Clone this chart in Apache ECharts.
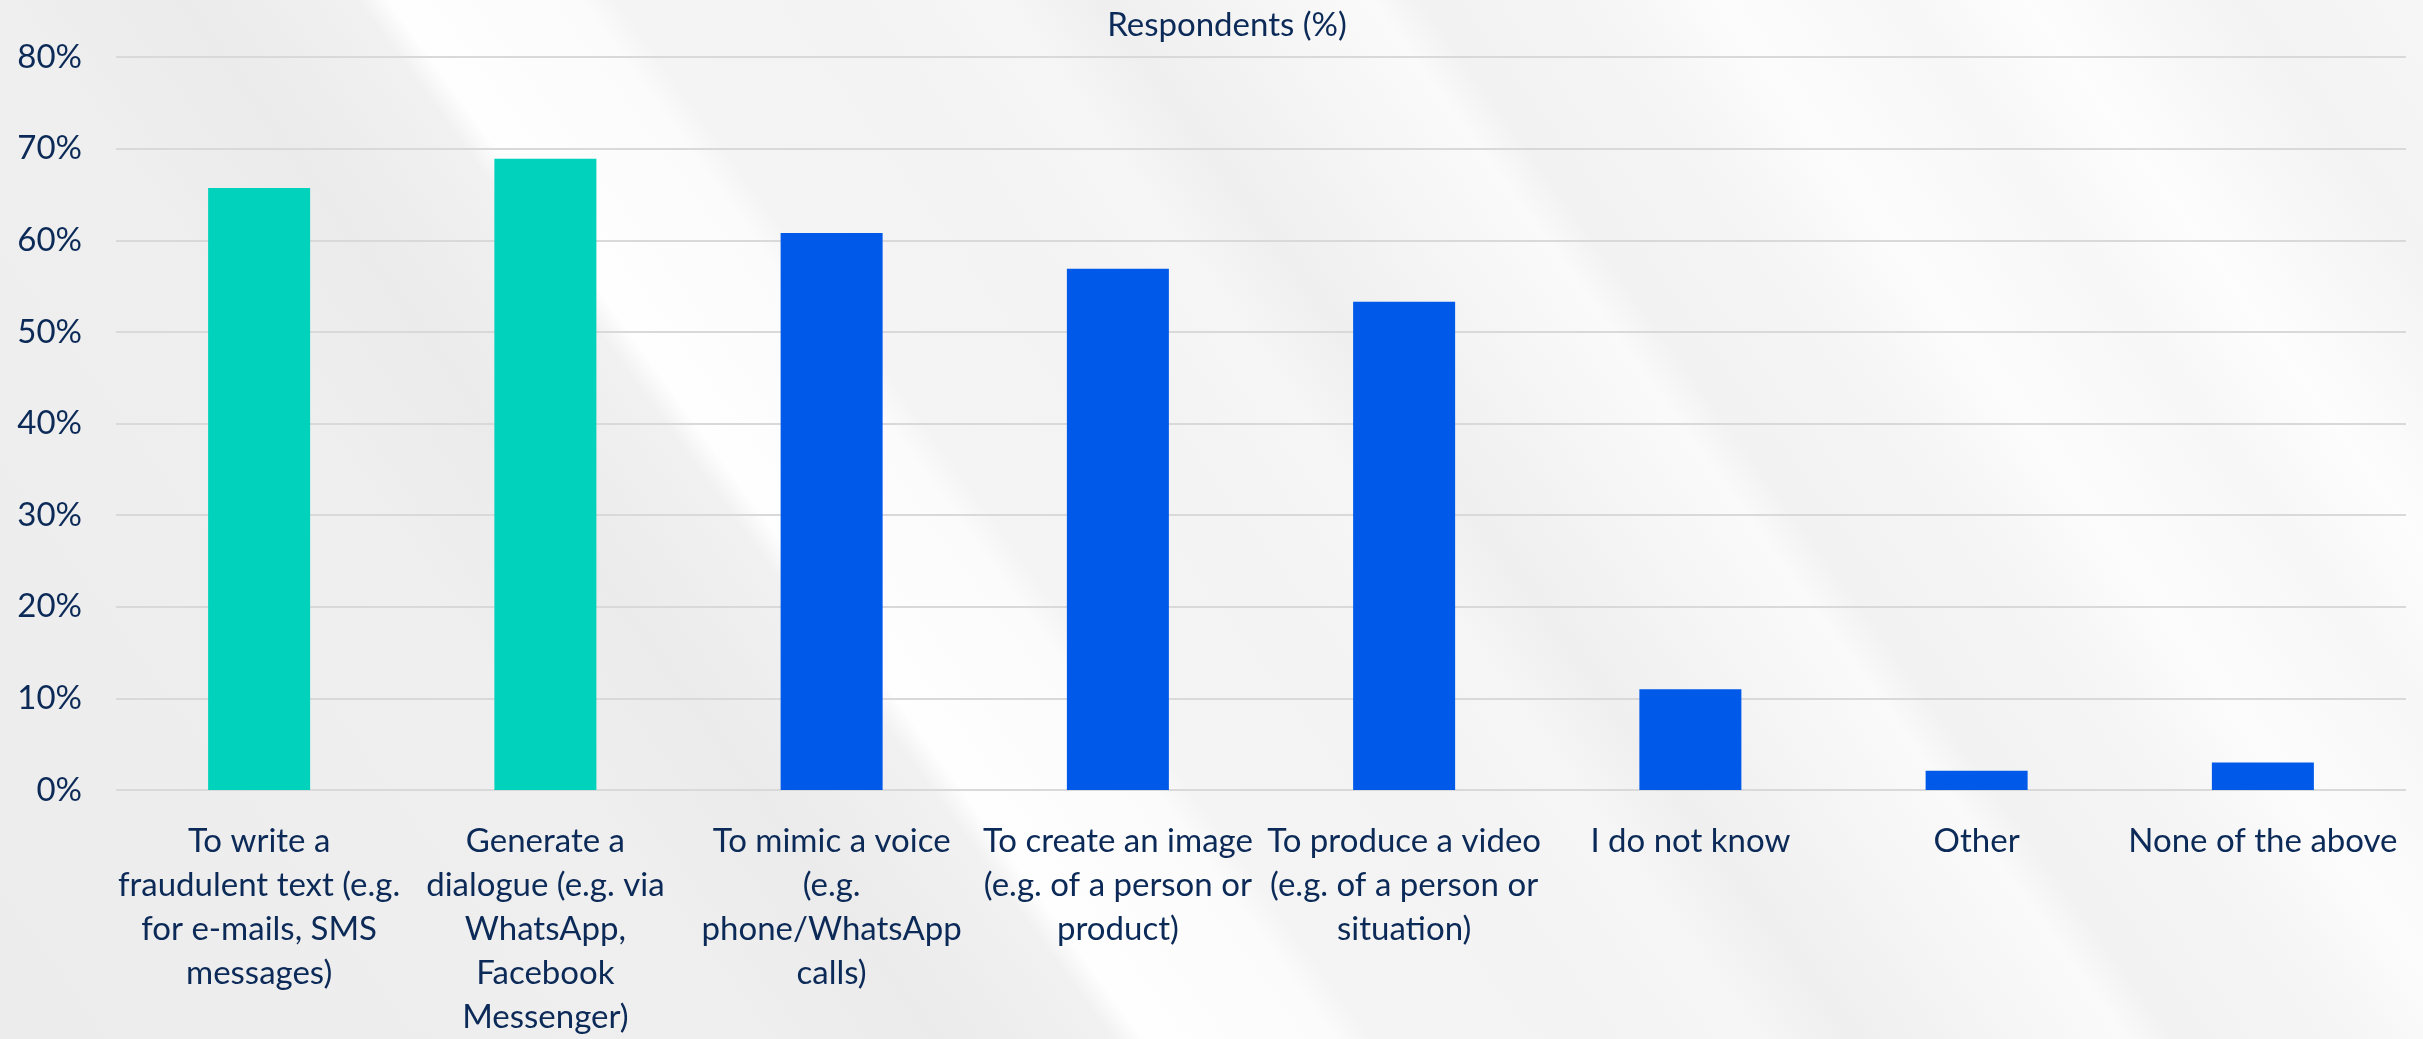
<!DOCTYPE html>
<html>
<head>
<meta charset="utf-8">
<script src="https://cdn.jsdelivr.net/npm/echarts@6/dist/echarts.min.js"></script>
<style>
  html, body { margin: 0; padding: 0; }
  body {
    width: 2423px; height: 1039px; overflow: hidden;
    background-color: #f0f0f0;
    background-image:
      linear-gradient(54deg,
        #ececec 0px, #efefef 600px, #ebebeb 760px, #f1f1f1 900px,
        #fefefe 925px, #fbfbfb 1080px, #f4f4f4 1110px, #f3f3f3 1300px,
        #f6f6f6 1420px, #efefef 1500px, #f4f4f4 1600px, #fafafa 1720px,
        #f2f2f2 1760px, #f5f5f5 1900px, #fcfcfc 2000px, #f7f7f7 2150px,
        #fdfdfd 2250px, #f3f3f3 2420px, #f6f6f6 2571px);
  }
  #chart { width: 2423px; height: 1039px; }
</style>
</head>
<body>
<div id="chart"></div>
<script>
// Survey answers: ways in which AI is used for fraud
const categories = [
  'To write a\nfraudulent text (e.g.\nfor e-mails, SMS\nmessages)',
  'Generate a\ndialogue (e.g. via\nWhatsApp,\nFacebook\nMessenger)',
  'To mimic a voice\n(e.g.\nphone/WhatsApp\ncalls)',
  'To create an image\n(e.g. of a person or\nproduct)',
  'To produce a video\n(e.g. of a person or\nsituation)',
  'I do not know',
  'Other',
  'None of the above'
];
const respondents = [65.7, 68.9, 60.8, 56.9, 53.3, 11.0, 2.1, 3.0];
const highlighted = [true, true, false, false, false, false, false, false];
const yTicks = { min: 0, max: 80, interval: 10 };

const TEAL = '#00d2bb';
const BLUE = '#0059e8';
const INK = '#0c2a57';
const FONT = 'Lato, "Open Sans", sans-serif';

const chart = echarts.init(document.getElementById('chart'), null, { renderer: 'canvas' });
chart.setOption({
  backgroundColor: 'transparent',
  animation: false,
  title: {
    text: 'Respondents (%)',
    left: 1222, top: 4,
    textAlign: 'center',
    textStyle: { fontFamily: FONT, fontSize: 33, fontWeight: 'normal', color: INK }
  },
  grid: { left: 116, right: 17, top: 57, bottom: 248, containLabel: false },
  xAxis: {
    type: 'category',
    data: categories,
    axisLine: { show: false },
    axisTick: { show: false },
    axisLabel: {
      interval: 0, margin: 29,
      fontFamily: FONT, fontSize: 33, lineHeight: 44, color: INK, align: 'center'
    }
  },
  yAxis: {
    type: 'value',
    min: yTicks.min, max: yTicks.max, interval: yTicks.interval,
    axisLine: { show: false },
    axisTick: { show: false },
    splitLine: { lineStyle: { color: '#d9d9d9', width: 2 } },
    axisLabel: {
      formatter: '{value}%', margin: 34,
      fontFamily: FONT, fontSize: 33, color: INK
    }
  },
  series: [{
    type: 'bar',
    barWidth: 102,
    data: respondents.map((v, i) => ({
      value: v,
      itemStyle: { color: highlighted[i] ? TEAL : BLUE }
    }))
  }]
});
</script>
</body>
</html>
